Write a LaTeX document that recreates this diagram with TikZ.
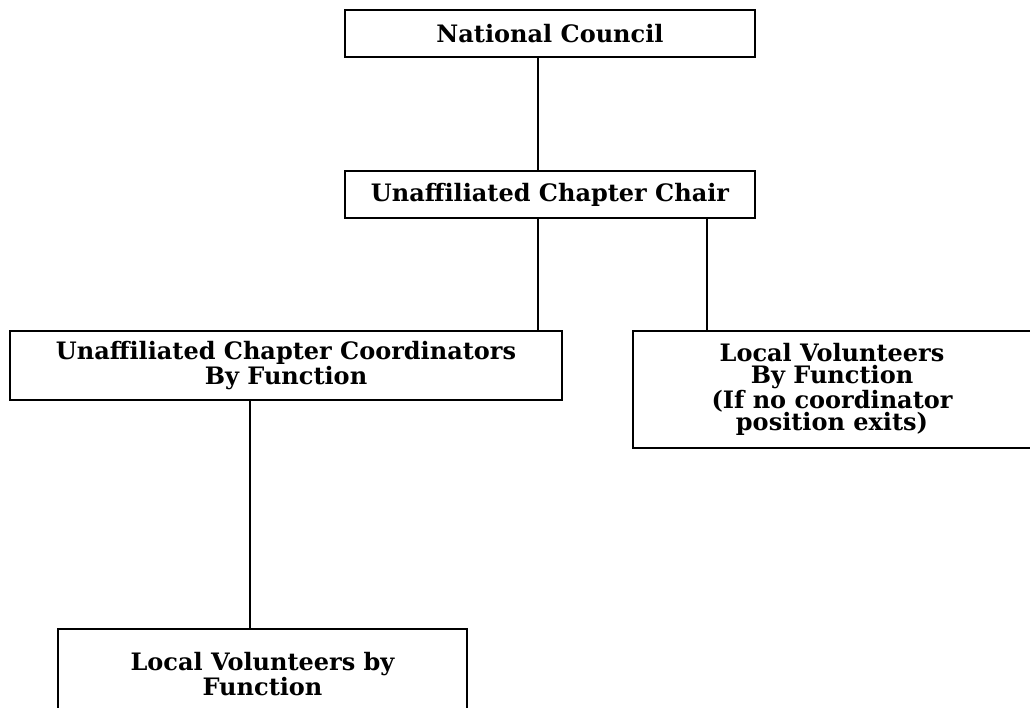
\documentclass[tikz,border=0pt]{standalone}
\usepackage{fontspec}
\setmainfont{DejaVu Serif}

\tikzset{
  post/.style={draw, line width=1.2pt, align=center, inner sep=0pt,
    font=\bfseries\fontsize{18}{16.8}\selectfont},
  link/.style={line width=1pt}
}

\begin{document}
\begin{tikzpicture}[x=0.75pt,y=-0.75pt]

\useasboundingbox (0,0) rectangle (1030,707);

 \node[post, minimum width=307.5pt, minimum height=35.25pt] (council) at (550,33.5) {National Council};
 \node[post, minimum width=307.5pt, minimum height=35.25pt] (chair) at (550,194.5) {Unaffiliated Chapter Chair};


 \node[post, minimum width=414pt, minimum height=51.75pt] (coord) at (286,365.5) {Unaffiliated Chapter Coordinators\\By Function};
 \node[post, minimum width=298.5pt, minimum height=87.75pt] (volright) at (832,389.5) {Local Volunteers\\By Function\\(If no coordinator\\position exits)};


 \node[post, minimum width=306.75pt, minimum height=67.5pt] (volbottom) at (262.5,674) {Local Volunteers by\\Function};



 \coordinate (mid) at (538,0);
 \coordinate (side) at (707,0);
 \coordinate (low) at (250,0);

  \draw[link] (council.south -| mid) -- (chair.north -| mid);
  \draw[link] (chair.south -| mid) -- (coord.north -| mid);
  \draw[link] (chair.south -| side) -- (volright.north -| side);
  \draw[link] (coord.south -| low) -- (volbottom.north -| low);
\end{tikzpicture}
\end{document}
